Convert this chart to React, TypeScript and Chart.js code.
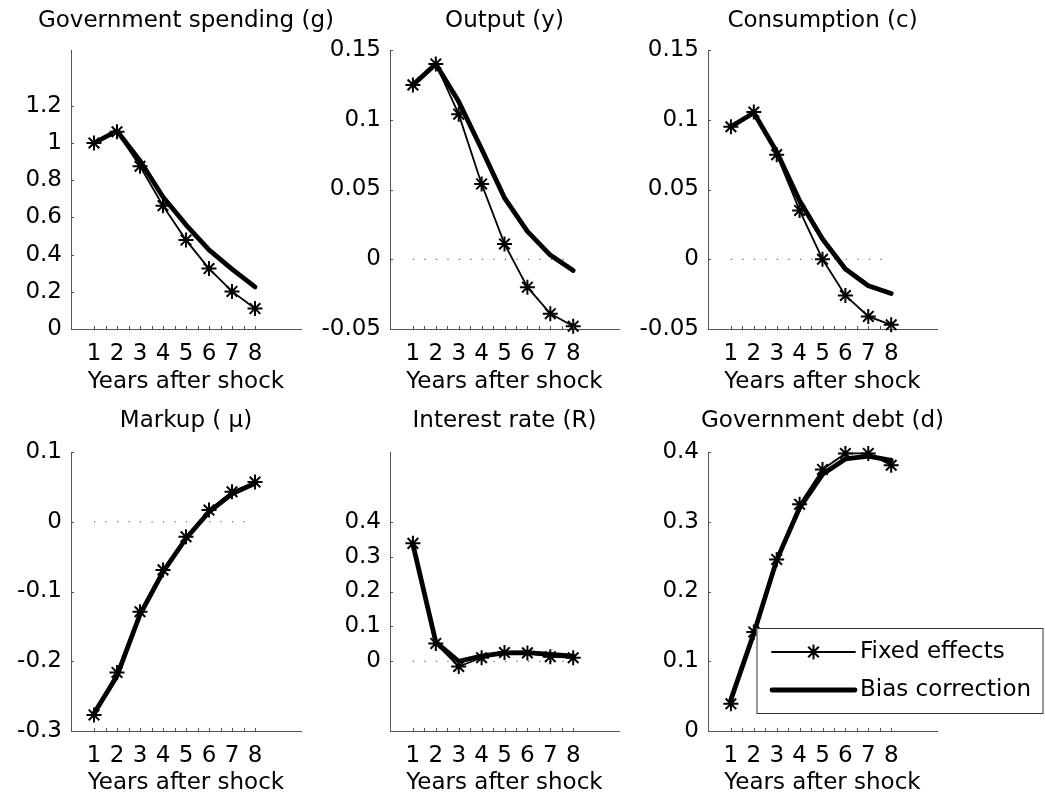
import React, { useEffect, useRef } from 'react';
import { Chart, registerables } from 'chart.js';

Chart.register(...registerables);

// ---------------- data ----------------
const years = [1, 2, 3, 4, 5, 6, 7, 8];
const xTickLabels = ['1', '2', '3', '4', '5', '6', '7', '8'];
const xMinorTicks = [1, 1.5, 2, 2.5, 3, 3.5, 4, 4.5, 5, 5.5, 6, 6.5, 7, 7.5, 8];
const seriesNames = ['Fixed effects', 'Bias correction'];
const xAxisTitle = 'Years after shock';

const gFixed = [1.0, 1.06, 0.875, 0.663, 0.478, 0.325, 0.202, 0.11];
const gBias = [1.0, 1.065, 0.905, 0.71, 0.56, 0.425, 0.322, 0.226];
const gTicks = [0, 0.2, 0.4, 0.6, 0.8, 1, 1.2];
const gTickLabels = ['0', '0.2', '0.4', '0.6', '0.8', '1', '1.2'];

const yFixed = [0.125, 0.14, 0.104, 0.054, 0.011, -0.02, -0.039, -0.048];
const yBias = [0.125, 0.14, 0.113, 0.079, 0.044, 0.02, 0.003, -0.008];
const yTicks = [-0.05, 0, 0.05, 0.1, 0.15];
const yTickLabels = ['-0.05', '0', '0.05', '0.1', '0.15'];

const cFixed = [0.095, 0.1055, 0.075, 0.035, 0.0, -0.026, -0.041, -0.047];
const cBias = [0.095, 0.105, 0.077, 0.042, 0.0145, -0.007, -0.019, -0.0245];
const cTicks = [-0.05, 0, 0.05, 0.1, 0.15];
const cTickLabels = ['-0.05', '0', '0.05', '0.1', '0.15'];

const muFixed = [-0.277, -0.216, -0.129, -0.069, -0.0215, 0.0168, 0.043, 0.057];
const muBias = [-0.275, -0.221, -0.133, -0.072, -0.024, 0.014, 0.04, 0.055];
const muTicks = [-0.3, -0.2, -0.1, 0, 0.1];
const muTickLabels = ['-0.3', '-0.2', '-0.1', '0', '0.1'];

const rFixed = [0.338, 0.051, -0.015, 0.01, 0.025, 0.024, 0.013, 0.01];
const rBias = [0.335, 0.055, 0.0, 0.015, 0.024, 0.025, 0.02, 0.015];
const rTicks = [0, 0.1, 0.2, 0.3, 0.4];
const rTickLabels = ['0', '0.1', '0.2', '0.3', '0.4'];

const dFixed = [0.039, 0.142, 0.246, 0.325, 0.375, 0.398, 0.398, 0.381];
const dBias = [0.045, 0.14, 0.245, 0.32, 0.368, 0.39, 0.394, 0.388];
const dTicks = [0, 0.1, 0.2, 0.3, 0.4];
const dTickLabels = ['0', '0.1', '0.2', '0.3', '0.4'];

const zeroLine = [0, 0];
const zeroLineX = [1, 8];

// ---------------- styles / layout ----------------
const FONT = '"DejaVu Sans", "Liberation Sans", Arial, sans-serif';
const FONT_SIZE = 23;
const AXIS_COLOR = '#555';

Chart.defaults.font.family = FONT;
Chart.defaults.color = '#000';

type Geo = {
  cl: number; ct: number; cw: number; ch: number;
  plotLeft: number; plotRight: number; plotTop: number; plotBottom: number;
  titleMid: number; xTitleMid: number;
};

// page coordinates
const row1 = { ct: 0, ch: 400, plotTop: 50, plotBottom: 329, titleMid: 21, xTitleMid: 382 };
const row2 = { ct: 400, ch: 402, plotTop: 452, plotBottom: 731, titleMid: 421, xTitleMid: 783 };
const col1 = { cl: 0, cw: 340, plotLeft: 71, plotRight: 301 };
const col2 = { cl: 310, cw: 370, plotLeft: 390, plotRight: 619 };
const col3 = { cl: 628, cw: 417, plotLeft: 708, plotRight: 937 };

type PanelCfg = {
  title: string;
  fixed: number[];
  bias: number[];
  ticks: number[];
  tickLabels: string[];
  min: number;
  max: number;
  zero: boolean;
  legend: boolean;
  geo: Geo;
};

const panels: PanelCfg[] = [
  { title: 'Government spending (g)', fixed: gFixed, bias: gBias, ticks: gTicks, tickLabels: gTickLabels, min: 0, max: 1.5, zero: false, legend: false, geo: { ...row1, ...col1 } },
  { title: 'Output (y)', fixed: yFixed, bias: yBias, ticks: yTicks, tickLabels: yTickLabels, min: -0.05, max: 0.15, zero: true, legend: false, geo: { ...row1, ...col2 } },
  { title: 'Consumption (c)', fixed: cFixed, bias: cBias, ticks: cTicks, tickLabels: cTickLabels, min: -0.05, max: 0.15, zero: true, legend: false, geo: { ...row1, ...col3 } },
  { title: 'Markup ( \u03bc)', fixed: muFixed, bias: muBias, ticks: muTicks, tickLabels: muTickLabels, min: -0.3, max: 0.1, zero: true, legend: false, geo: { ...row2, ...col1 } },
  { title: 'Interest rate (R)', fixed: rFixed, bias: rBias, ticks: rTicks, tickLabels: rTickLabels, min: -0.2, max: 0.6, zero: true, legend: false, geo: { ...row2, ...col2 } },
  { title: 'Government debt (d)', fixed: dFixed, bias: dBias, ticks: dTicks, tickLabels: dTickLabels, min: 0, max: 0.4, zero: false, legend: true, geo: { ...row2, ...col3 } },
];

// ---------------- plugins ----------------
function drawStar(ctx: CanvasRenderingContext2D, cx: number, cy: number, r: number) {
  const d = Math.cos(Math.PI / 4) * r;
  ctx.moveTo(cx - r, cy); ctx.lineTo(cx + r, cy);
  ctx.moveTo(cx, cy - r); ctx.lineTo(cx, cy + r);
  ctx.moveTo(cx - d, cy - d); ctx.lineTo(cx + d, cy + d);
  ctx.moveTo(cx - d, cy + d); ctx.lineTo(cx + d, cy - d);
}

const inwardTicksPlugin = {
  id: 'inwardTicks',
  afterDraw(chart: any, _args: any, opts: any) {
    const { ctx, chartArea, scales } = chart;
    const xs = scales.x;
    const ys = scales.y;
    ctx.save();
    ctx.strokeStyle = AXIS_COLOR;
    ctx.lineWidth = 1;
    ctx.beginPath();
    for (const v of opts.xTicks || []) {
      const px = Math.round(xs.getPixelForValue(v)) + 0.5;
      ctx.moveTo(px, chartArea.bottom);
      ctx.lineTo(px, chartArea.bottom - 3);
    }
    for (const v of opts.yTicks || []) {
      const py = Math.round(ys.getPixelForValue(v)) + 0.5;
      ctx.moveTo(chartArea.left, py);
      ctx.lineTo(chartArea.left + 3, py);
    }
    ctx.stroke();
    ctx.restore();
  },
};

const axesTitlePlugin = {
  id: 'axesTitle',
  afterDraw(chart: any, _args: any, opts: any) {
    if (!opts || !opts.text) return;
    const { ctx, chartArea } = chart;
    ctx.save();
    ctx.fillStyle = '#000';
    ctx.font = `${FONT_SIZE}px ${FONT}`;
    ctx.textAlign = 'center';
    ctx.textBaseline = 'middle';
    ctx.fillText(opts.text, (chartArea.left + chartArea.right) / 2, opts.y);
    ctx.restore();
  },
};

const boxLegendPlugin = {
  id: 'boxLegend',
  afterDraw(chart: any, _args: any, opts: any) {
    if (!opts || !opts.show) return;
    const { ctx } = chart;
    const { left, top, width, height, sampleX0, sampleX1, textX, rowY } = opts;
    ctx.save();
    ctx.fillStyle = '#fff';
    ctx.fillRect(left, top, width, height);
    ctx.strokeStyle = '#333';
    ctx.lineWidth = 1;
    ctx.strokeRect(left + 0.5, top + 0.5, width, height);
    const items = chart.data.datasets.filter((d: any) => seriesNames.includes(d.label));
    items.forEach((ds: any, i: number) => {
      const yy = rowY[i];
      ctx.strokeStyle = ds.borderColor;
      ctx.lineWidth = ds.borderWidth;
      ctx.lineCap = 'round';
      ctx.beginPath();
      ctx.moveTo(sampleX0, yy);
      ctx.lineTo(sampleX1, yy);
      ctx.stroke();
      if (ds.pointStyle === 'star') {
        ctx.lineWidth = ds.pointBorderWidth;
        ctx.lineCap = 'butt';
        ctx.beginPath();
        drawStar(ctx, (sampleX0 + sampleX1) / 2, yy, ds.pointRadius);
        ctx.stroke();
      }
      ctx.fillStyle = '#000';
      ctx.font = `${FONT_SIZE}px ${FONT}`;
      ctx.textBaseline = 'middle';
      ctx.textAlign = 'left';
      ctx.fillText(ds.label, textX, yy);
    });
    ctx.restore();
  },
};

// ---------------- components ----------------
function Panel({ cfg }: { cfg: PanelCfg }) {
  const ref = useRef<HTMLCanvasElement | null>(null);

  useEffect(() => {
    if (!ref.current) return;
    const g = cfg.geo;
    const lineHeight = FONT_SIZE * 1.2;
    const topPad = g.plotTop - g.ct;
    const xScaleHeight = g.ct + g.ch - g.plotBottom;
    const yScaleWidth = g.plotLeft - g.cl;
    const padRight = g.cl + g.cw - g.plotRight;
    const xTickLabelMid = 25.5;
    const xTickPad = xTickLabelMid - lineHeight / 2;
    const xTitlePadBottom = g.ct + g.ch - g.xTitleMid - lineHeight / 2;

    const datasets: any[] = [
      {
        label: seriesNames[0],
        data: years.map((x, i) => ({ x, y: cfg.fixed[i] })),
        borderColor: '#000',
        backgroundColor: '#000',
        borderWidth: 1.8,
        pointStyle: 'star',
        pointRadius: 7.5,
        pointBorderWidth: 2,
        pointBorderColor: '#000',
        pointBackgroundColor: '#000',
        tension: 0,
        clip: false,
      },
      {
        label: seriesNames[1],
        data: years.map((x, i) => ({ x, y: cfg.bias[i] })),
        borderColor: '#000',
        backgroundColor: '#000',
        borderWidth: 4.8,
        pointRadius: 0,
        borderCapStyle: 'round',
        borderJoinStyle: 'round',
        tension: 0,
        clip: false,
      },
    ];
    if (cfg.zero) {
      datasets.push({
        label: 'zero',
        data: zeroLineX.map((x, i) => ({ x, y: zeroLine[i] })),
        borderColor: '#444',
        borderWidth: 1,
        borderDash: [1.2, 10.3],
        pointRadius: 0,
      });
    }

    const legendOpts = cfg.legend
      ? {
          show: true,
          left: 756.5 - g.cl,
          top: 628 - g.ct,
          width: 286,
          height: 85,
          sampleX0: 772 - g.cl,
          sampleX1: 855 - g.cl,
          textX: 860 - g.cl,
          rowY: [652 - g.ct, 690 - g.ct],
        }
      : { show: false };

    const chart = new Chart(ref.current, {
      type: 'line',
      data: { datasets },
      options: {
        animation: false,
        responsive: false,
        maintainAspectRatio: false,
        devicePixelRatio: 1,
        layout: { padding: { left: 0, right: padRight, top: topPad, bottom: 0 } },
        plugins: {
          legend: { display: false },
          tooltip: { enabled: false },
          title: { display: false },
          axesTitle: { text: cfg.title, y: g.titleMid - g.ct },
          inwardTicks: { xTicks: xMinorTicks, yTicks: cfg.ticks },
          boxLegend: legendOpts,
        } as any,
        scales: {
          x: {
            type: 'linear',
            min: 0,
            max: 10,
            grid: { display: false, drawTicks: false },
            border: { display: true, color: AXIS_COLOR, width: 1 },
            afterBuildTicks: (scale: any) => {
              scale.ticks = years.map((v) => ({ value: v }));
            },
            afterFit: (scale: any) => {
              scale.height = xScaleHeight;
            },
            ticks: {
              autoSkip: false,
              maxRotation: 0,
              padding: xTickPad,
              color: '#000',
              font: { size: FONT_SIZE, family: FONT },
              callback: (_v: any, i: number) => xTickLabels[i],
            },
            title: {
              display: true,
              text: xAxisTitle,
              color: '#000',
              font: { size: FONT_SIZE, family: FONT },
              padding: { top: 0, bottom: xTitlePadBottom },
            },
          },
          y: {
            type: 'linear',
            min: cfg.min,
            max: cfg.max,
            grid: { display: false, drawTicks: false },
            border: { display: true, color: AXIS_COLOR, width: 1 },
            afterBuildTicks: (scale: any) => {
              scale.ticks = cfg.ticks.map((v) => ({ value: v }));
            },
            afterFit: (scale: any) => {
              scale.width = yScaleWidth;
            },
            ticks: {
              autoSkip: false,
              padding: 9,
              color: '#000',
              font: { size: FONT_SIZE, family: FONT },
              callback: (_v: any, i: number) => cfg.tickLabels[i],
            },
          },
        },
      } as any,
      plugins: [inwardTicksPlugin, axesTitlePlugin, boxLegendPlugin],
    });
    return () => chart.destroy();
  }, [cfg]);

  const g = cfg.geo;
  return (
    <div style={{ position: 'absolute', left: g.cl, top: g.ct, width: g.cw, height: g.ch }}>
      <canvas ref={ref} width={g.cw} height={g.ch} style={{ width: g.cw, height: g.ch, display: 'block' }} />
    </div>
  );
}

export default function App() {
  return (
    <div style={{ position: 'absolute', left: 0, top: 0, width: 1045, height: 802, background: '#fff', overflow: 'hidden' }}>
      {panels.map((p) => (
        <Panel key={p.title} cfg={p} />
      ))}
    </div>
  );
}
